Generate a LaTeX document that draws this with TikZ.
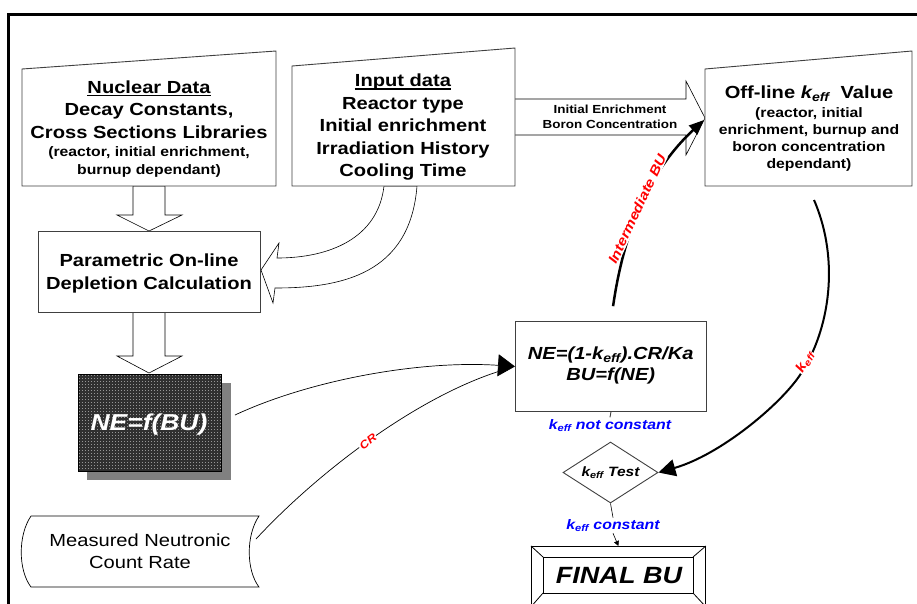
\documentclass[tikz,border=0pt]{standalone}
\usepackage{fontspec}
\setmainfont{Liberation Sans}[FakeStretch=1.15]
\usetikzlibrary{arrows.meta,shapes.geometric}
\definecolor{boxline}{RGB}{64,64,64}
\definecolor{gridbg}{RGB}{150,150,150}
\definecolor{gridfg}{RGB}{48,48,48}
\definecolor{shadowgray}{RGB}{128,128,128}
\newcommand{\keff}{k\textsubscript{eff}}
\begin{document}
\begin{tikzpicture}[x=1pt,y=-1pt,
  outl/.style={draw=boxline, line width=0.9pt, fill=white},
  barr/.style={draw=black, line width=0.6pt, fill=white},
  L/.style={anchor=base, inner sep=0pt, font=\fontsize{17.5}{21}\selectfont\bfseries},
  S/.style={anchor=base, inner sep=0pt, font=\fontsize{13.7}{16}\selectfont\bfseries},
  T/.style={anchor=base, inner sep=0pt, font=\fontsize{11.7}{14}\selectfont\bfseries},
  F/.style={anchor=base, inner sep=0pt, font=\fontsize{17.5}{21}\selectfont\bfseries\itshape},
  redlab/.style={text=red, fill=white, inner sep=1pt, font=\fontsize{13.5}{16}\selectfont\bfseries\itshape},
  blulab/.style={text=blue, fill=white, inner sep=1.5pt, anchor=base, font=\fontsize{13.8}{16}\selectfont\bfseries\itshape},
  ul/.style={line width=1.2pt}
]
\useasboundingbox (0,0) rectangle (917,603);
\clip (0,0) rectangle (917,603);
\fill[white] (0,0) rectangle (917,603);
% frame
\draw[line width=3pt] (8,620) -- (8,14) -- (930,14);

% ---------- block arrows ----------
\draw[barr] (133,186) -- (165,186) -- (165,215) -- (182,215) -- (149,231) -- (117,215) -- (133,215) -- cycle;
\draw[barr] (133,312) -- (165,312) -- (165,356) -- (182,356) -- (149,373) -- (117,356) -- (133,356) -- cycle;
\draw[barr] (384,186) .. controls (378,238) and (330,258) .. (277,258) -- (279,243) -- (261,270) -- (273,303) -- (275,288)
   .. controls (340,288) and (410,275) .. (417,186) -- cycle;
\draw[barr] (515,99) -- (686,99) -- (686,81) -- (705,118) -- (686,155) -- (686,135) -- (515,135);
\node[T] (ie1) at (610,113) {Initial Enrichment};
\node[T] (ie2) at (610,128.7) {Boron Concentration};

% ---------- top boxes ----------
\draw[outl] (22,69) -- (276,51) -- (276,186) -- (22,186) -- cycle;
\node[L] (nuc1) at (149,93.3) {Nuclear Data};
\draw[ul] ([yshift=-2.5pt]nuc1.base west) -- ([yshift=-2.5pt]nuc1.base east);
\node[L] (nuc2) at (149,115.7) {Decay Constants,};
\node[L] (nuc3) at (149,138) {Cross Sections Libraries};
\node[S] (nuc4) at (149,156.5) {(reactor, initial enrichment,};
\node[S] (nuc5) at (149,174) {burnup dependant)};

\draw[outl] (292,66) -- (515,48) -- (515,186) -- (292,186) -- cycle;
\node[L] (in1) at (403,86.5) {Input data};
\draw[ul] ([yshift=-2.5pt]in1.base west) -- ([yshift=-2.5pt]in1.base east);
\node[L] (in2) at (403,109) {Reactor type};
\node[L] (in3) at (403,131.8) {Initial enrichment};
\node[L] (in4) at (403,154.2) {Irradiation History};
\node[L] (in5) at (403,176.5) {Cooling Time};

\draw[outl] (705,69) -- (912,51) -- (912,186) -- (705,186) -- cycle;
\node[L] (off1) at (809,98.5) {Off-line \textit{\keff}~ Value};
\node[S] (off2) at (809,117.8) {(reactor, initial};
\node[S] (off3) at (809,134) {enrichment, burnup and};
\node[S] (off4) at (809,151) {boron concentration};
\node[S] (off5) at (809,168.8) {dependant)};

% ---------- parametric ----------
\node[outl, minimum width=222pt, minimum height=81pt, anchor=north west] (param) at (38,231) {};
\node[L] (par1) at (149,266.5) {Parametric On-line};
\node[L] (par2) at (149,289.2) {Depletion Calculation};

% ---------- NE=f(BU) ----------
\fill[shadowgray] (87,383) rectangle (231,480);
\node[fill=gridbg, minimum width=143pt, minimum height=97pt, anchor=north west, inner sep=0pt] (nebox) at (78,374) {};
\begin{scope}
  \clip (78,374) rectangle (221,471);
  \foreach \i in {0,...,48} \draw[gridfg, line width=2pt] (78+3*\i,374) -- (78+3*\i,471);
  \foreach \j in {0,...,33} \draw[gridfg, line width=2pt] (78,374+3*\j) -- (221,374+3*\j);
\end{scope}
\draw[line width=0.8pt] (nebox.north west) rectangle (nebox.south east);
\node[anchor=base, inner sep=0pt, text=white, font=\fontsize{23}{26}\selectfont\bfseries\itshape] (nef) at (149,430) {NE=f(BU)};
\coordinate (neout) at (235,415);

% ---------- measured ----------
\draw[draw=black, line width=0.7pt, fill=white] (31,516) -- (259,516) .. controls (246,535) and (246,570) .. (259,587)
   -- (31,587) .. controls (18,570) and (18,535) .. (31,516) -- cycle;
\node[anchor=base, inner sep=0pt, font=\fontsize{17.5}{21}\selectfont] (mea1) at (140,546) {Measured Neutronic};
\node[anchor=base, inner sep=0pt, font=\fontsize{17.5}{21}\selectfont] (mea2) at (140,568) {Count Rate};
\coordinate (meas) at (256,539);

% ---------- formula ----------
\node[outl, minimum width=191pt, minimum height=90pt, anchor=north west] (form) at (515,321) {};
\node[F] (fo1) at (610.7,359.2) {NE=(1-\keff).CR/Ka};
\node[F] (fo2) at (610.7,380.8) {BU=f(NE)};

% ---------- test ----------
\node[draw=boxline, line width=0.9pt, fill=white, shape=diamond, minimum width=95pt, minimum height=61pt, inner sep=0pt] (test) at (610.5,472.5) {};
\node[anchor=base, inner sep=0pt, font=\fontsize{13.5}{16}\selectfont\bfseries\itshape] (testt) at (610.5,476.7) {\keff\ Test};

% ---------- final ----------
\node[draw=black, line width=0.8pt, fill=white, minimum width=174pt, minimum height=60pt, anchor=north west] (final) at (531,546) {};
\draw[line width=0.8pt] (543,557) rectangle (693,593);
\draw[line width=0.8pt] (final.north west) -- (543,557) (final.north east) -- (693,557)
  (final.south west) -- (543,593) (final.south east) -- (693,593);
\node[anchor=base, inner sep=0pt, font=\fontsize{23.5}{26}\selectfont\bfseries\itshape] (fin) at (619,583) {FINAL BU};

% ---------- connectors ----------
\draw[line width=0.7pt, shorten >=12pt] (meas) .. controls (320,470) and (420,395) .. (form.west);
\node[redlab, font=\fontsize{11}{13}\selectfont\bfseries\itshape, rotate=38] (crl) at (368,442) {CR};
\draw[line width=0.7pt, -{Triangle[length=17pt,width=22pt]}] (neout) .. controls (310,380) and (420,360) .. (form.west);

\coordinate (ibend) at (704,120);
\draw[line width=2.5pt, shorten <=15pt, -{Triangle[length=15pt,width=12pt]}] (form.north) .. controls (624,230) and (650,170) .. (ibend);
\node[redlab, rotate=65] (ibl) at (637,209) {Intermediate BU};

\coordinate (kst) at (814,200);
\draw[line width=2pt, -{Triangle[length=17pt,width=17pt]}] (kst) .. controls (840,260) and (830,330) .. (800,375)
   .. controls (780,405) and (720,455) .. (test.east);
\node[redlab, rotate=60] (kl) at (805,362) {\keff};

\node[blulab] (notc) at (610,429) {\keff\ not constant};
\draw[boxline, line width=0.9pt] (form.south) -- (notc.north);
\node[blulab] (cst) at (613,529.3) {\keff\ constant};
\draw[line width=0.6pt] (test.south) -- (cst.north);
\draw[line width=0.6pt, -{Triangle[length=5pt,width=5pt]}] (cst.south) -- (final.north);
\end{tikzpicture}
\end{document}
